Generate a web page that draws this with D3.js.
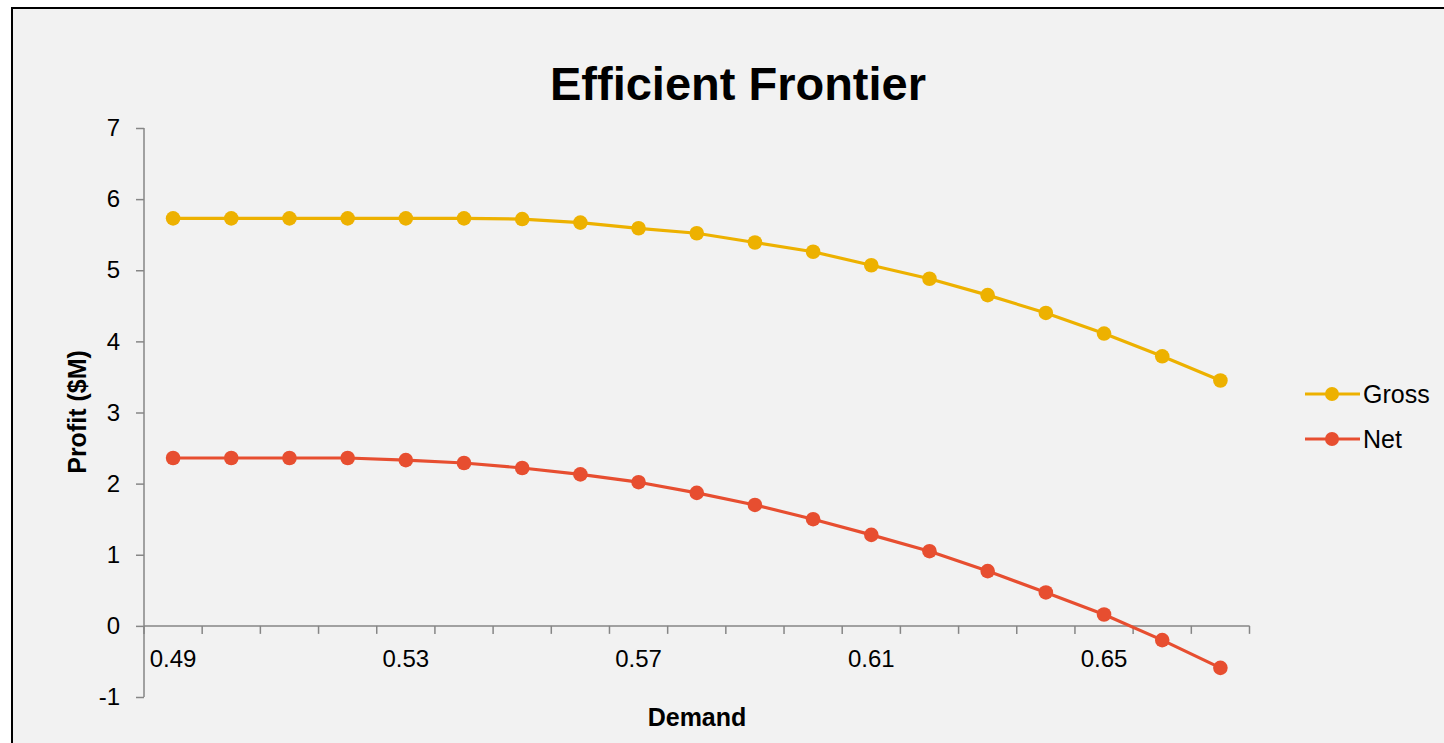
<!DOCTYPE html>
<html>
<head>
<meta charset="utf-8">
<script src="https://cdn.jsdelivr.net/npm/d3@7"></script>
<style>
  html, body { margin: 0; padding: 0; background: #ffffff; }
  svg { display: block; }
  text { font-family: "Liberation Sans", Arial, sans-serif; fill: #000; }
</style>
</head>
<body>
<svg id="chart" width="1444" height="743"></svg>
<script>
// Demand levels (category axis)
const demand = ["0.49","0.50","0.51","0.52","0.53","0.54","0.55","0.56","0.57","0.58",
                "0.59","0.60","0.61","0.62","0.63","0.64","0.65","0.66","0.67"];
// Profit in $M
const gross = [5.73,5.73,5.73,5.73,5.73,5.73,5.72,5.67,5.59,5.52,
               5.39,5.26,5.07,4.88,4.65,4.40,4.11,3.79,3.45];
const net   = [2.36,2.36,2.36,2.36,2.33,2.29,2.22,2.13,2.02,1.87,
               1.70,1.50,1.28,1.05,0.77,0.47,0.16,-0.20,-0.59];
const yTicks = [-1,0,1,2,3,4,5,6,7];
const xLabels = ["0.49","0.53","0.57","0.61","0.65"];
const seriesNames = ["Gross","Net"];
const seriesColors = ["#EDB100","#E74E30"];

const svg = d3.select("#chart");
const W = 1444, H = 743;

// chart frame
svg.append("rect").attr("x", 12).attr("y", 8)
  .attr("width", W + 20).attr("height", H + 20)
  .attr("fill", "#F2F2F2").attr("stroke", "#000").attr("stroke-width", 2);

const x = d3.scaleBand().domain(demand).range([144, 1249.5]).padding(0);
const y = d3.scaleLinear().domain([-1, 7]).range([697, 128]);
const cx = d => x(d) + x.bandwidth() / 2;
const axisColor = "#868686";

// y axis (plain hyphen for negatives)
const yAxis = svg.append("g").attr("transform", "translate(144,0)")
  .call(d3.axisLeft(y).tickValues(yTicks).tickSize(8).tickPadding(16).tickFormat(d => String(d)));
yAxis.select(".domain").attr("stroke", axisColor).attr("stroke-width", 1.5)
  .attr("d", `M0,${y(7)}V${y(-1)}`);
yAxis.selectAll(".tick line").attr("stroke", axisColor).attr("stroke-width", 1.5);
yAxis.selectAll(".tick text").attr("font-size", 24).attr("font-family", "Liberation Sans, Arial, sans-serif")
  .attr("fill", "#000");

// x axis crossing at zero; tick marks sit on category boundaries
const y0 = y(0);
const boundaries = demand.map(d => x(d)).concat([x.range()[1]]);
const xg = svg.append("g");
xg.append("line").attr("x1", 144).attr("x2", x.range()[1]).attr("y1", y0).attr("y2", y0)
  .attr("stroke", axisColor).attr("stroke-width", 1.5);
xg.selectAll("line.tk").data(boundaries).join("line").attr("class", "tk")
  .attr("x1", d => d).attr("x2", d => d).attr("y1", y0).attr("y2", y0 + 8)
  .attr("stroke", axisColor).attr("stroke-width", 1.5);
xg.selectAll("text").data(xLabels).join("text")
  .attr("x", d => cx(d)).attr("y", 667).attr("text-anchor", "middle")
  .attr("font-size", 24).text(d => d);

// series lines and markers
const seriesData = [gross, net];
seriesData.forEach((vals, i) => {
  const pts = demand.map((d, j) => [cx(d), y(vals[j])]);
  svg.append("path").attr("d", d3.line()(pts))
    .attr("fill", "none").attr("stroke", seriesColors[i]).attr("stroke-width", 3.2)
    .attr("stroke-linejoin", "round");
  svg.append("g").selectAll("circle").data(pts).join("circle")
    .attr("cx", p => p[0]).attr("cy", p => p[1]).attr("r", 7.3)
    .attr("fill", seriesColors[i]);
});

// title
svg.append("text").attr("x", 738).attr("y", 100).attr("text-anchor", "middle")
  .attr("font-size", 47).attr("font-weight", "bold").text("Efficient Frontier");

// axis titles
svg.append("text").attr("x", 697).attr("y", 726).attr("text-anchor", "middle")
  .attr("font-size", 25).attr("font-weight", "bold").text("Demand");
svg.append("text").attr("transform", "translate(86,412) rotate(-90)").attr("text-anchor", "middle")
  .attr("font-size", 25).attr("font-weight", "bold").text("Profit ($M)");

// legend
const legendY = [394, 439];
seriesNames.forEach((name, i) => {
  const g = svg.append("g");
  g.append("line").attr("x1", 1305).attr("x2", 1360).attr("y1", legendY[i]).attr("y2", legendY[i])
    .attr("stroke", seriesColors[i]).attr("stroke-width", 3.2);
  g.append("circle").attr("cx", 1332).attr("cy", legendY[i]).attr("r", 7)
    .attr("fill", seriesColors[i]);
  g.append("text").attr("x", 1363).attr("y", legendY[i] + 9).attr("font-size", 25).text(name);
});
</script>
</body>
</html>
